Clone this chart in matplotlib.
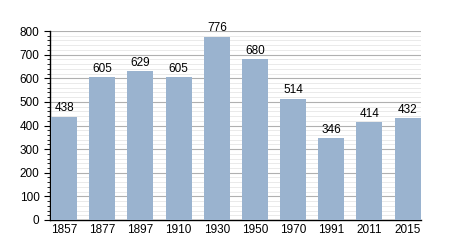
import matplotlib
matplotlib.use("Agg")
import matplotlib.pyplot as plt
from matplotlib.ticker import MultipleLocator

# --- Dados ---
anos = ["1857", "1877", "1897", "1910", "1930", "1950", "1970", "1991", "2011", "2015"]
populacao = [438, 605, 629, 605, 776, 680, 514, 346, 414, 432]

plt.rcParams['font.family'] = ['Liberation Sans', 'DejaVu Sans']

fig = plt.figure(figsize=(4.5, 2.5), dpi=100)
ax = fig.add_axes([50 / 450, 30 / 250, 371 / 450, 189 / 250])

x = range(len(anos))
ax.bar(x, populacao, width=0.68, color="#9ab3cf", zorder=3)

# rotulos dos valores
for xi, v in zip(x, populacao):
    ax.text(xi, v + 10, str(v), ha="center", va="bottom", fontsize=8.5, zorder=4)

ax.set_xlim(-0.37, 9.35)
ax.set_ylim(0, 800)
ax.set_xticks(list(x))
ax.set_xticklabels(anos, fontsize=8.5)
ax.yaxis.set_major_locator(MultipleLocator(100))
ax.yaxis.set_minor_locator(MultipleLocator(20))
ax.tick_params(axis="y", which="major", labelsize=8.5, length=4, width=0.8)
ax.tick_params(axis="y", which="minor", length=2, width=0.6)
ax.tick_params(axis="x", length=0, pad=3)

# grade
ax.grid(True, axis="y", which="major", color="#b0b0b0", linewidth=0.8, zorder=1)
ax.grid(True, axis="y", which="minor", color="#e6e6e6", linewidth=0.6, zorder=1)

for s in ["top", "right"]:
    ax.spines[s].set_visible(False)
ax.spines["left"].set_linewidth(1.0)
ax.spines["bottom"].set_linewidth(1.0)

fig.savefig("out.png", dpi=100)
